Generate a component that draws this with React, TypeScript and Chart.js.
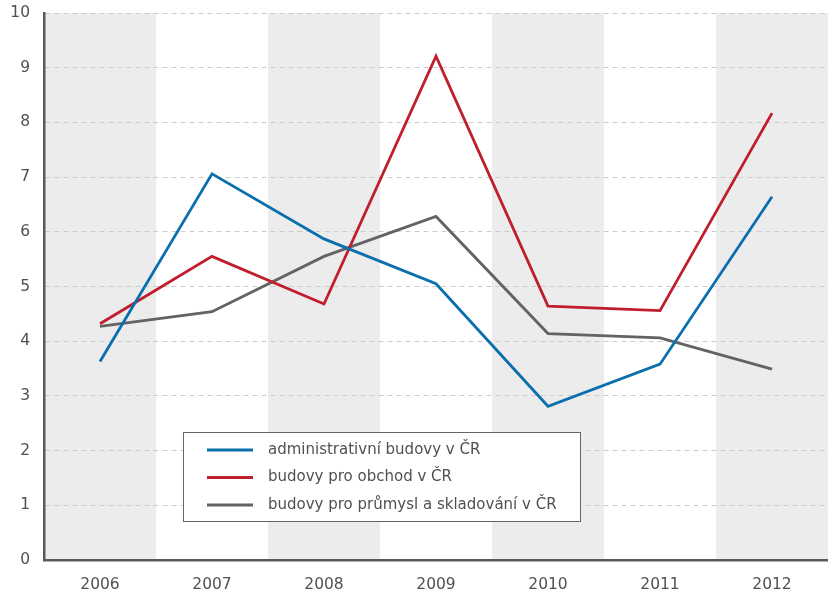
import React, { useEffect, useRef } from "react";
import { Chart, registerables } from "chart.js";

Chart.register(...registerables);

const years = ["2006", "2007", "2008", "2009", "2010", "2011", "2012"];
const administrativni = [3.63, 7.06, 5.87, 5.05, 2.81, 3.58, 6.64];
const obchod = [4.32, 5.55, 4.68, 9.21, 4.64, 4.56, 8.17];
const prumysl = [4.27, 4.54, 5.55, 6.28, 4.14, 4.06, 3.49];
const seriesNames = [
  "administrativní budovy v ČR",
  "budovy pro obchod v ČR",
  "budovy pro průmysl a skladování v ČR",
];
const yTicks = [0, 1, 2, 3, 4, 5, 6, 7, 8, 9, 10];

const FONT = "'DejaVu Sans', sans-serif";
const TEXT = "#505050";

const bandsPlugin = {
  id: "bands",
  beforeDraw(chart: any) {
    const { ctx, chartArea } = chart;
    const xs = chart.scales.x;
    const n = chart.data.labels.length;
    const w = chartArea.width / n;
    ctx.save();
    ctx.fillStyle = "#ececec";
    for (let i = 0; i < n; i += 2) {
      const cx = xs.getPixelForValue(i);
      ctx.fillRect(cx - w / 2, chartArea.top, w, chartArea.bottom - chartArea.top);
    }
    ctx.restore();
  },
};

const legendBoxPlugin = {
  id: "legendBox",
  afterDraw(chart: any) {
    const { ctx } = chart;
    const x = 183.5, y = 432.5, w = 397, h = 89;
    ctx.save();
    ctx.fillStyle = "#ffffff";
    ctx.fillRect(x, y, w, h);
    ctx.strokeStyle = "#666666";
    ctx.lineWidth = 1;
    ctx.strokeRect(x, y, w, h);
    chart.data.datasets.forEach((ds: any, i: number) => {
      const ry = 450 + i * 27.5;
      ctx.strokeStyle = ds.borderColor;
      ctx.lineWidth = 2.8;
      ctx.beginPath();
      ctx.moveTo(207, ry);
      ctx.lineTo(253, ry);
      ctx.stroke();
      ctx.fillStyle = TEXT;
      ctx.font = `15px ${FONT}`;
      ctx.textBaseline = "middle";
      ctx.textAlign = "left";
      ctx.fillText(ds.label, 268, ry);
    });
    ctx.restore();
  },
};

export default function App() {
  const ref = useRef<HTMLCanvasElement>(null);
  useEffect(() => {
    if (!ref.current) return;
    const mk = (label: string, data: number[], color: string) => ({
      label,
      data,
      borderColor: color,
      backgroundColor: color,
      borderWidth: 2.8,
      pointRadius: 0,
      tension: 0,
      fill: false,
    });
    const chart = new Chart(ref.current, {
      type: "line",
      data: {
        labels: years,
        datasets: [
          mk(seriesNames[0], administrativni, "#0a6fad"),
          mk(seriesNames[1], obchod, "#c01e2d"),
          mk(seriesNames[2], prumysl, "#636363"),
        ],
      },
      options: {
        responsive: false,
        animation: false,
        layout: { padding: { top: 13, right: 0, left: 0, bottom: 0 } },
        plugins: {
          legend: { display: false },
          tooltip: { enabled: false },
        },
        scales: {
          x: {
            type: "category",
            offset: true,
            afterFit(scale: any) {
              scale.height = 37;
              scale.paddingLeft = 0;
              scale.paddingRight = 0;
            },
            grid: { display: false, drawTicks: false },
            border: { display: true, color: "#5a5a5a", width: 2.5 },
            ticks: { color: TEXT, font: { family: FONT, size: 15.5 }, padding: 16 },
          },
          y: {
            min: 0,
            max: 10,
            afterBuildTicks(scale: any) {
              scale.ticks = yTicks.map((v) => ({ value: v }));
            },
            afterFit(scale: any) {
              scale.width = 44;
              scale.paddingTop = 0;
              scale.paddingBottom = 0;
            },
            grid: {
              drawTicks: false,
              color: "#cccccc",
              lineWidth: 1,
            },
            border: { display: true, color: "#5a5a5a", width: 2.5, dash: [5, 4] },
            ticks: { color: TEXT, font: { family: FONT, size: 15.5 }, padding: 14 },
          },
        },
      },
      plugins: [bandsPlugin, legendBoxPlugin],
    } as any);
    return () => chart.destroy();
  }, []);
  return (
    <div style={{ position: "fixed", left: 0, top: 0, width: 828, height: 597, background: "#fff" }}>
      <canvas ref={ref} width={828} height={597} style={{ display: "block" }} />
    </div>
  );
}
